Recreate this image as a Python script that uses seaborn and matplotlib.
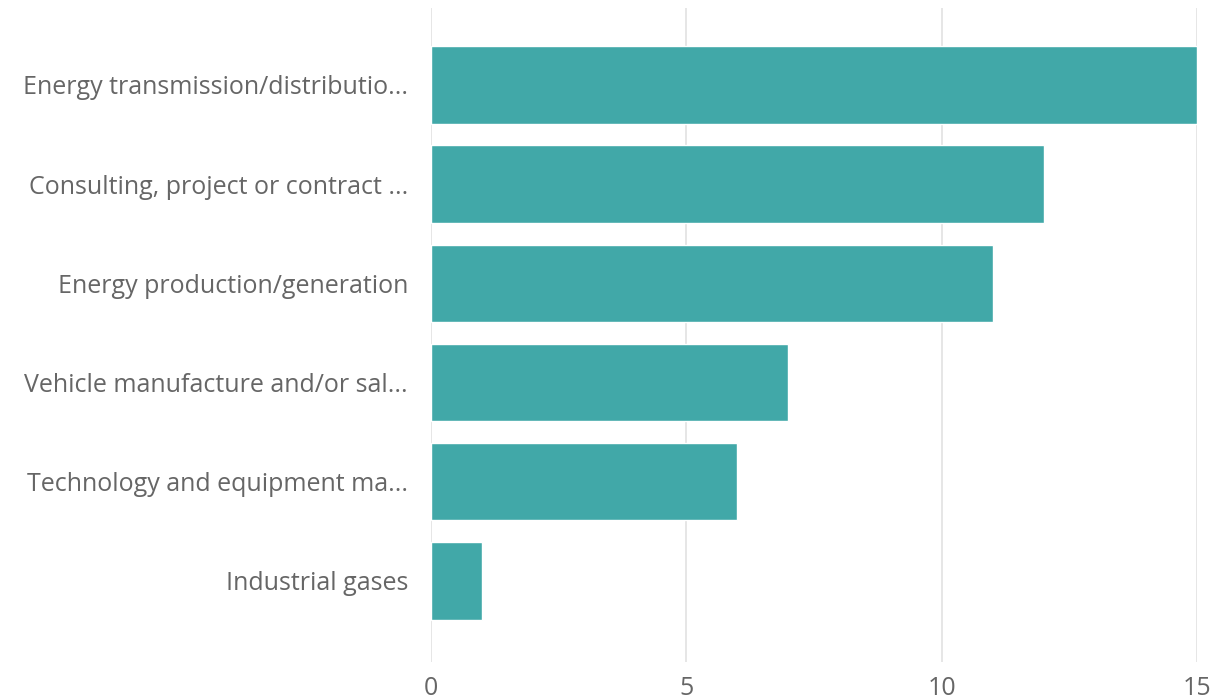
import matplotlib
matplotlib.use("Agg")
import matplotlib.pyplot as plt
import seaborn as sns
import pandas as pd

categories = [
    "Energy transmission/distributio...",
    "Consulting, project or contract ...",
    "Energy production/generation",
    "Vehicle manufacture and/or sal...",
    "Technology and equipment ma...",
    "Industrial gases",
]
values = [15, 12, 11, 7, 6, 1]
xticks = [0, 5, 10, 15]

sns.set_style("white")
plt.rcParams["font.family"] = ["Open Sans", "DejaVu Sans"]

df = pd.DataFrame({"category": categories, "value": values})

fig = plt.figure(figsize=(12.21, 6.99), dpi=100)
ax = fig.add_axes([431 / 1221, 1 - 662 / 699, (1197 - 431) / 1221, (662 - 8) / 699])

sns.barplot(data=df, x="value", y="category", color="#41A8A8", saturation=1,
            width=0.78, ax=ax, zorder=3)

ax.set_xlim(0, 15)
ax.set_ylim(5.817, -0.776)
ax.set_xticks(xticks)
ax.set_xticklabels([str(t) for t in xticks])
ax.grid(axis="x", color="#e4e4e4", linewidth=1.3, zorder=0)
ax.grid(axis="y", visible=False)
for s in ax.spines.values():
    s.set_visible(False)
ax.set_xlabel("")
ax.set_ylabel("")
ax.tick_params(axis="y", length=0, pad=16.5, labelsize=18, labelcolor="#666666")
ax.tick_params(axis="x", length=0, pad=10, labelsize=18, labelcolor="#666666")

fig.savefig("out.png", dpi=100)
